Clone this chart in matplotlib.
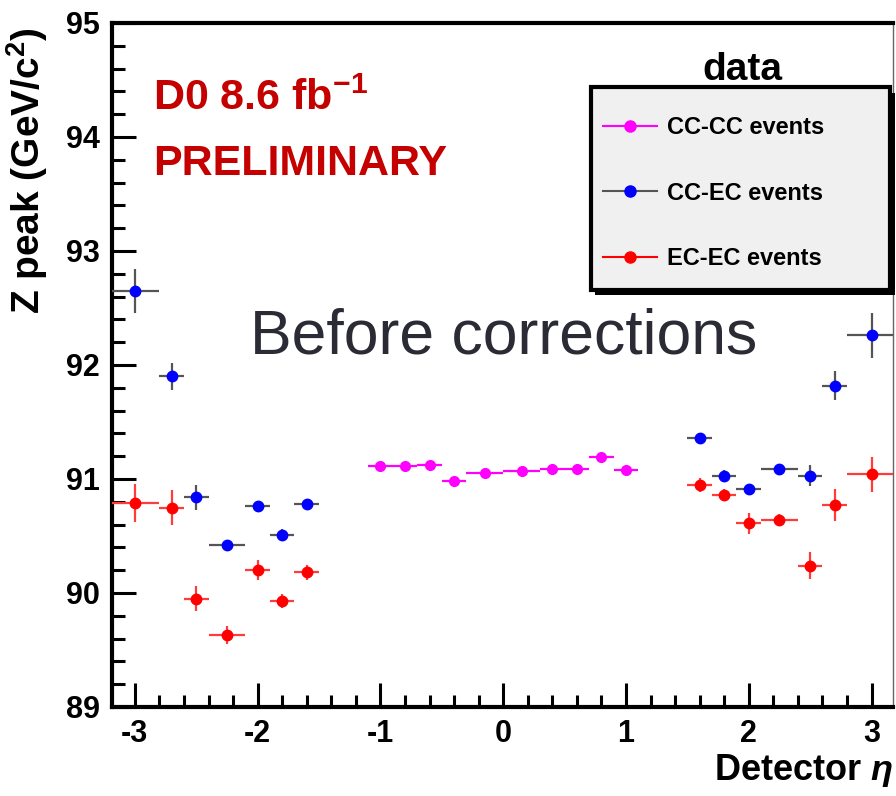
import matplotlib
matplotlib.use("Agg")
import matplotlib.pyplot as plt
from matplotlib.lines import Line2D
from matplotlib.patches import Rectangle
from matplotlib.ticker import MultipleLocator

# Z peak position vs detector eta
cc_cc_eta = [-1.0, -0.8, -0.6, -0.4, -0.15, 0.15, 0.4, 0.6, 0.8, 1.0]
cc_cc_eta_err = [0.1, 0.1, 0.1, 0.1, 0.15, 0.15, 0.1, 0.1, 0.1, 0.1]
cc_cc_peak = [91.11, 91.11, 91.12, 90.98, 91.05, 91.07, 91.09, 91.09, 91.19, 91.08]
cc_cc_peak_err = [0.03, 0.03, 0.03, 0.04, 0.03, 0.03, 0.03, 0.03, 0.04, 0.03]

ec_eta = [-3.0, -2.7, -2.5, -2.25, -2.0, -1.8, -1.6, 1.6, 1.8, 2.0, 2.25, 2.5, 2.7, 3.0]
ec_eta_err = [0.2, 0.1, 0.1, 0.15, 0.1, 0.1, 0.1, 0.1, 0.1, 0.1, 0.15, 0.1, 0.1, 0.2]

cc_ec_peak = [92.65, 91.90, 90.84, 90.42, 90.76, 90.51, 90.78,
              91.36, 91.03, 90.91, 91.09, 91.03, 91.82, 92.26]
cc_ec_peak_err = [0.19, 0.12, 0.11, 0.04, 0.04, 0.05, 0.04,
                  0.04, 0.05, 0.05, 0.04, 0.09, 0.13, 0.2]

ec_ec_peak = [90.79, 90.75, 89.95, 89.63, 90.20, 89.93, 90.18,
              90.95, 90.86, 90.61, 90.64, 90.24, 90.77, 91.04]
ec_ec_peak_err = [0.17, 0.15, 0.11, 0.08, 0.09, 0.06, 0.07,
                  0.06, 0.05, 0.09, 0.05, 0.12, 0.14, 0.15]

labels = ["CC-CC events", "CC-EC events", "EC-EC events"]
y_ticks = [89, 90, 91, 92, 93, 94, 95]
x_ticks = [-3, -2, -1, 0, 1, 2, 3]

SANS = ["Liberation Sans", "DejaVu Sans"]

plt.rcParams["font.family"] = SANS
plt.rcParams["font.weight"] = "bold"
plt.rcParams["axes.unicode_minus"] = False
plt.rcParams["mathtext.fontset"] = "custom"
plt.rcParams["mathtext.rm"] = "Liberation Sans"
plt.rcParams["mathtext.bf"] = "Liberation Sans:bold"
plt.rcParams["mathtext.it"] = "Liberation Sans:italic"

fig = plt.figure(figsize=(8.96, 7.96), dpi=100)
ax = fig.add_axes([112 / 896, 1 - 707 / 796, 781 / 896, 684 / 796])

ax.errorbar(ec_eta, ec_ec_peak, xerr=ec_eta_err, yerr=ec_ec_peak_err, fmt="o",
            color="#ff0000", ecolor="#ff3b3b", elinewidth=1.6, ms=7.5, capsize=0, zorder=3)
ax.errorbar(ec_eta, cc_ec_peak, xerr=ec_eta_err, yerr=cc_ec_peak_err, fmt="o",
            color="#0000ff", ecolor="#555555", elinewidth=1.6, ms=7.5, capsize=0, zorder=3)
ax.errorbar(cc_cc_eta, cc_cc_peak, xerr=cc_cc_eta_err, yerr=cc_cc_peak_err, fmt="o",
            color="#ff00ff", ecolor="#ff00ff", elinewidth=1.6, ms=7, capsize=0, zorder=3)

ax.set_xlim(-3.186, 3.175)
ax.set_ylim(89, 95)
ax.set_xticks(x_ticks)
ax.set_yticks(y_ticks)
ax.xaxis.set_minor_locator(MultipleLocator(0.2))
ax.yaxis.set_minor_locator(MultipleLocator(0.2))
ax.tick_params(which="both", direction="in", top=False, right=False, width=2.2)
ax.tick_params(which="major", length=17, labelsize=22, pad=9)
ax.tick_params(which="minor", length=9)
for lab in ax.get_xticklabels() + ax.get_yticklabels():
    lab.set_fontweight("bold")

for s in ["left", "bottom", "top"]:
    ax.spines[s].set_linewidth(3)
ax.spines["right"].set_linewidth(1)
ax.spines["right"].set_color("#666666")

ax.set_ylabel(r"Z peak (GeV/c$^{\mathbf{2}}$)", fontsize=28, fontweight="bold", loc="top")
ax.yaxis.set_label_coords(-0.08, 0.993)
ax.set_xlabel(r"Detector $\eta$", fontsize=26, fontweight="bold", loc="right")
ax.xaxis.set_label_coords(1.0, -0.066)

ax.text(0.0525, 0.873, r"D0 8.6 fb$^{\mathbf{-1}}$", transform=ax.transAxes,
        color="#c40000", fontsize=31, fontweight="bold", va="baseline")
ax.text(0.0525, 0.778, "PRELIMINARY", transform=ax.transAxes,
        color="#c40000", fontsize=31, fontweight="bold", va="baseline")

# legend box with ROOT-like shadow
x0, y0, w, h = 0.613, 0.610, 0.383, 0.296
ax.add_patch(Rectangle((x0 + 0.006, y0 - 0.008), w, h, transform=ax.transAxes,
                       facecolor="black", edgecolor="none", zorder=4, clip_on=False))
ax.add_patch(Rectangle((x0, y0), w, h, transform=ax.transAxes, facecolor="#f0f0f0",
                       edgecolor="black", lw=3, zorder=5, clip_on=False))
handles = [
    Line2D([], [], color="#ff00ff", marker="o", ms=8, lw=1.5),
    Line2D([], [], color="#555555", marker="o", ms=8, mfc="#0000ff", mec="#0000ff", lw=1.5),
    Line2D([], [], color="#ff0000", marker="o", ms=8, lw=1.5),
]
leg = ax.legend(handles, labels, loc="upper left", bbox_to_anchor=(x0, 0.881),
                frameon=False, borderpad=0.5, borderaxespad=0, handlelength=2.3,
                handletextpad=0.45, labelspacing=1.8,
                prop={"family": SANS, "size": 17, "weight": "bold"})
leg.set_zorder(6)
ax.text(0.807, 0.9167, "data", transform=ax.transAxes, fontsize=28,
        fontweight="bold", ha="center", va="baseline")

fig.text(250 / 896, 1 - 353 / 796, "Before corrections", family=SANS,
         fontweight="normal", fontsize=45, color="#2b2b36", va="baseline")

fig.savefig("out.png", dpi=100)
